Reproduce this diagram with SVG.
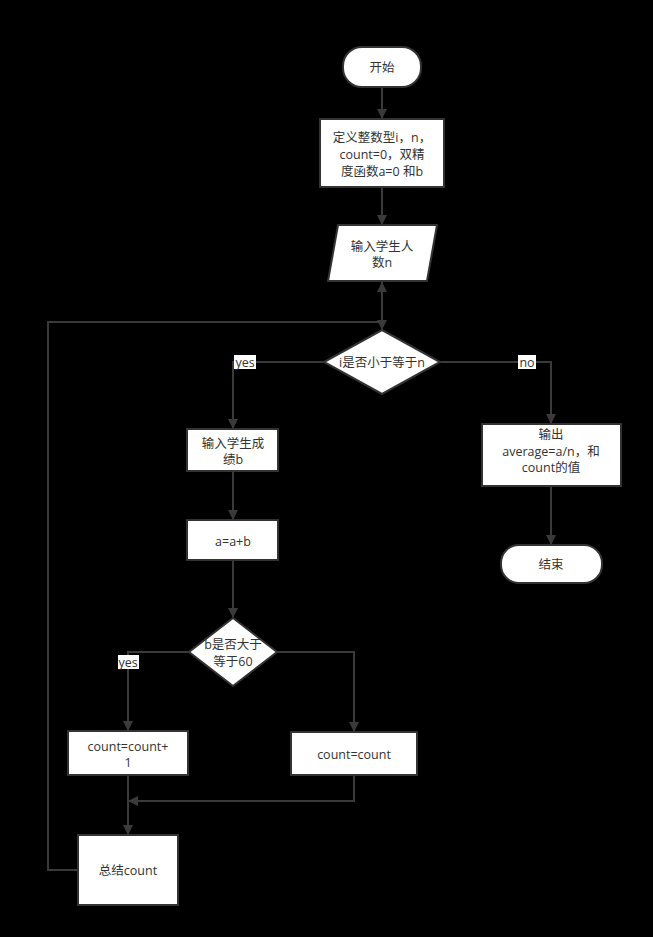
<svg xmlns="http://www.w3.org/2000/svg" width="653" height="937" viewBox="0 0 653 937">
<defs>
<marker id="arr" markerWidth="10" markerHeight="10" refX="9" refY="5" orient="auto" markerUnits="userSpaceOnUse">
<path d="M0,0 L10,5 L0,10 Z" fill="#3a3a3a"/>
</marker>
<style>
.box{fill:#fff;stroke:#333;stroke-width:2}
.ln{fill:none;stroke:#3a3a3a;stroke-width:2}
text{font-family:"Open Sans","Noto Sans CJK SC",sans-serif;font-size:12.5px;fill:#333;text-anchor:middle;dominant-baseline:central}
.lbl{fill:#fff}
</style>
</defs>
<rect width="653" height="937" fill="#000"/>
<g id="connectors">
<path class="ln" d="M382,87 V118" marker-end="url(#arr)"/>
<path class="ln" d="M382,187 V224" marker-end="url(#arr)"/>
<path class="ln" d="M382,281 V329" marker-end="url(#arr)"/>
<path class="ln" d="M78,870 H48 V322 H382 V283" marker-end="url(#arr)"/>
<path class="ln" d="M324,362 H233 V428" marker-end="url(#arr)"/>
<rect class="lbl" x="234" y="355" width="22" height="14"/>
<text x="245" y="362">yes</text>
<path class="ln" d="M440,362 H551 V423" marker-end="url(#arr)"/>
<rect class="lbl" x="518" y="355" width="18" height="14"/>
<text x="527" y="362">no</text>
<path class="ln" d="M551,486 V544" marker-end="url(#arr)"/>
<path class="ln" d="M233,471 V519" marker-end="url(#arr)"/>
<path class="ln" d="M233,560 V617" marker-end="url(#arr)"/>
<path class="ln" d="M189,652 H128 V730" marker-end="url(#arr)"/>
<rect class="lbl" x="118" y="655" width="21" height="14"/>
<text x="128" y="662">yes</text>
<path class="ln" d="M277,652 H354 V731" marker-end="url(#arr)"/>
<path class="ln" d="M354,775 V801 H129" marker-end="url(#arr)"/>
<path class="ln" d="M128,775 V834" marker-end="url(#arr)"/>
</g>
<g id="start">
<rect class="box" x="343" y="47" width="78" height="40" rx="19"/>
<text x="382" y="67">开始</text>
</g>
<g id="define">
<rect class="box" x="320" y="119" width="124" height="68"/>
<text x="382" y="137">定义整数型i，n，</text>
<text x="382" y="154">count=0，双精</text>
<text x="382" y="171">度函数a=0 和b</text>
</g>
<g id="input-n">
<polygon class="box" points="338,225 437,225 427,281 328,281"/>
<text x="382" y="246">输入学生人</text>
<text x="382" y="262">数n</text>
</g>
<g id="cond1">
<polygon class="box" points="382,330 440,362 382,394 324,362"/>
<text x="382" y="362">i是否小于等于n</text>
</g>
<g id="output">
<rect class="box" x="482" y="424" width="139" height="62"/>
<text x="551" y="434">输出</text>
<text x="551" y="451">average=a/n，和</text>
<text x="551" y="467">count的值</text>
</g>
<g id="end">
<rect class="box" x="501" y="545" width="101" height="38" rx="18"/>
<text x="551" y="564">结束</text>
</g>
<g id="input-b">
<rect class="box" x="187" y="429" width="91" height="42"/>
<text x="233" y="443">输入学生成</text>
<text x="233" y="459">绩b</text>
</g>
<g id="sum">
<rect class="box" x="187" y="520" width="91" height="40"/>
<text x="233" y="541">a=a+b</text>
</g>
<g id="cond2">
<polygon class="box" points="233,618 277,652 233,686 189,652"/>
<text x="233" y="644">b是否大于</text>
<text x="233" y="661">等于60</text>
</g>
<g id="inc">
<rect class="box" x="68" y="731" width="120" height="44"/>
<text x="128" y="746">count=count+</text>
<text x="128" y="762">1</text>
</g>
<g id="keep">
<rect class="box" x="291" y="732" width="126" height="43"/>
<text x="354" y="754">count=count</text>
</g>
<g id="summary">
<rect class="box" x="78" y="835" width="100" height="70"/>
<text x="128" y="870">总结count</text>
</g>
</svg>
